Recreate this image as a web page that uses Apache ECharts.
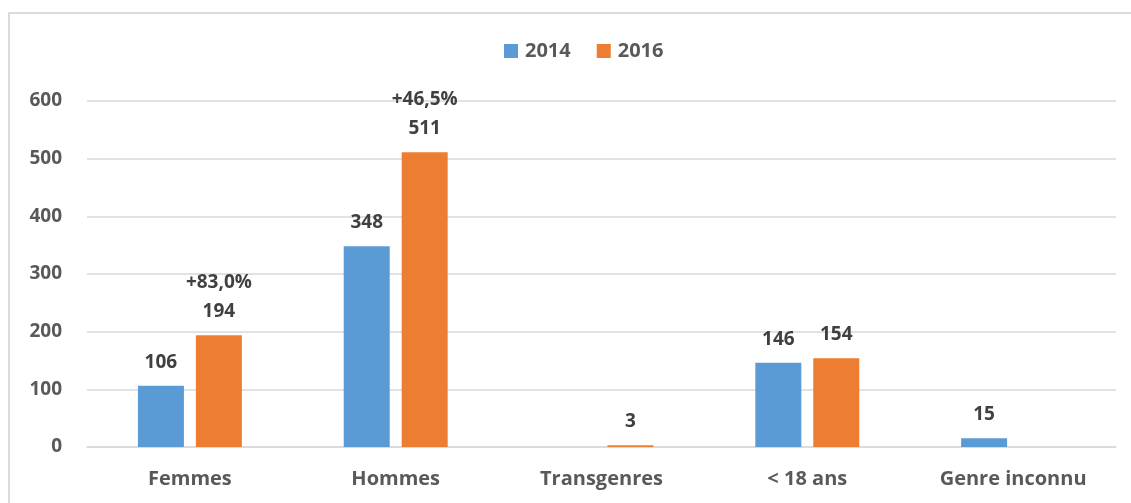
<!DOCTYPE html>
<html>
<head>
<meta charset="utf-8">
<script src="https://cdn.jsdelivr.net/npm/echarts@6/dist/echarts.min.js"></script>
<style>
  html, body { margin: 0; padding: 0; background: #fff; }
  #chart { width: 1131px; height: 503px; }
</style>
</head>
<body>
<div id="chart"></div>
<script>
// Chart data
const categories = ['Femmes', 'Hommes', 'Transgenres', '< 18 ans', 'Genre inconnu'];
const values2014 = [106, 348, null, 146, 15];
const values2016 = [194, 511, 3, 154, null];
const changes2016 = ['+83,0%', '+46,5%', '', '', ''];
const yTicks = [0, 100, 200, 300, 400, 500, 600];

const fontName = '"Open Sans", Lato, sans-serif';

const chart = echarts.init(document.getElementById('chart'));

const labelStyle = {
    show: true,
    position: 'top',
    distance: 9,
    color: '#404040',
    fontFamily: fontName,
    fontWeight: 'bold',
    fontSize: 19,
    lineHeight: 29
};

chart.setOption({
    animation: false,
    backgroundColor: '#fff',
    graphic: [{
        type: 'rect',
        shape: { x: 9, y: 13, width: 1200, height: 600 },
        style: { fill: 'none', stroke: '#d0d0d0', lineWidth: 1.5 },
        silent: true
    }],
    legend: {
        top: 36,
        left: 499,
        itemWidth: 14,
        itemHeight: 14,
        itemGap: 26,
        icon: 'rect',
        textStyle: {
            color: '#595959',
            fontFamily: fontName,
            fontWeight: 'bold',
            fontSize: 20,
            padding: [0, 0, 0, 2]
        },
        data: ['2014', '2016']
    },
    grid: { left: 87, right: 15, top: 101, bottom: 56 },
    xAxis: {
        type: 'category',
        data: categories,
        axisLine: { lineStyle: { color: '#d9d9d9', width: 1.5 } },
        axisTick: { show: false },
        axisLabel: {
            color: '#595959',
            fontFamily: fontName,
            fontWeight: 'bold',
            fontSize: 20,
            margin: 22
        }
    },
    yAxis: {
        type: 'value',
        min: yTicks[0],
        max: yTicks[yTicks.length - 1],
        interval: 100,
        axisLine: { show: false },
        axisTick: { show: false },
        splitLine: { lineStyle: { color: '#d9d9d9', width: 1.5 } },
        axisLabel: {
            color: '#595959',
            fontFamily: fontName,
            fontWeight: 'bold',
            fontSize: 19,
            margin: 25
        }
    },
    series: [{
        name: '2014',
        type: 'bar',
        barWidth: 46,
        barGap: '26%',
        itemStyle: { color: '#5B9BD5' },
        label: labelStyle,
        data: values2014
    }, {
        name: '2016',
        type: 'bar',
        barWidth: 46,
        barGap: '26%',
        itemStyle: { color: '#ED7D31' },
        label: Object.assign({}, labelStyle, {
            formatter: function (p) {
                const c = changes2016[p.dataIndex];
                return c ? c + '\n' + p.value : String(p.value);
            }
        }),
        data: values2016
    }]
});
</script>
</body>
</html>
